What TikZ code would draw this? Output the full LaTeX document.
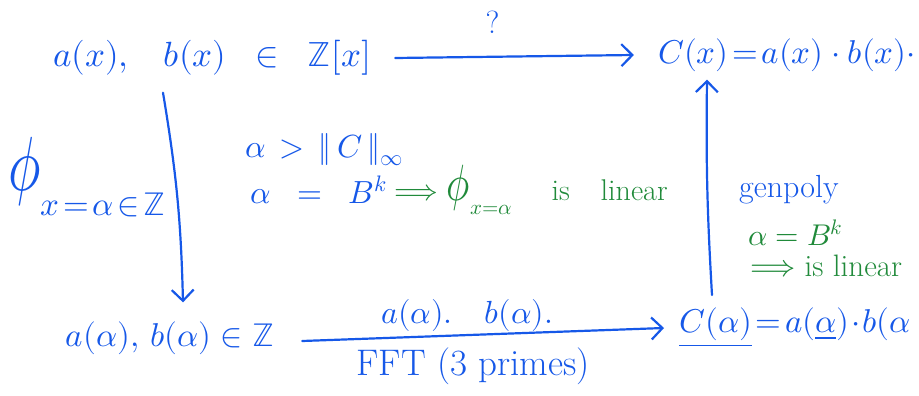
\documentclass[tikz,border=0pt]{standalone}
\usepackage{amsmath}
\usepackage{fontspec}
\usepackage{unicode-math}
\setmathfont{Latin Modern Math}
\usepackage{graphicx}
\usetikzlibrary{arrows.meta}
\definecolor{pen}{RGB}{22,88,232}
\definecolor{pgreen}{RGB}{32,138,58}
\tikzset{
  big/.style={text=pen, font=\fontsize{35}{38}\selectfont, inner sep=0pt},
  mid/.style={text=pen, font=\fontsize{32}{36}\selectfont, inner sep=0pt},
  gmid/.style={text=pgreen, font=\fontsize{30}{34}\selectfont, inner sep=0pt},
  arr/.style={draw=pen, line width=2.2pt, line cap=round,
    -{Straight Barb[length=11pt,width=22pt,line width=2.2pt]}},
}
\begin{document}
\begin{tikzpicture}[x=1pt,y=-1pt]
\useasboundingbox (0,0) rectangle (919,396);
% corner nodes
\node[big] (tl) at (212,58) {$a(x),\;\;\; b(x) \;\;\in\;\; \mathbb{Z}[x]$};
\node[big, font=\fontsize{33}{36}\selectfont] (tr) at (787,55) {$C(x)\!=\!a(x)\cdot b(x)\cdot$};
\node[big, font=\fontsize{33}{36}\selectfont] (bl) at (170,338) {$a(\alpha),\, b(\alpha) \in \mathbb{Z}$};
\node[big, font=\fontsize{33}{36}\selectfont, anchor=west] (br) at (679,328) {$\underline{C(\alpha)}\!=\!a(\underline{\alpha})\!\cdot\! b(\alpha$};
% arrows
\draw[arr] ([xshift=24pt]tl.east) -- ([xshift=-24pt]tr.west)
  node[midway, above=22pt, xshift=-22pt, mid] (q) {?};
\draw[arr] ([xshift=-49pt,yshift=-17pt]tl.south) to[bend left=4] ([xshift=13pt,yshift=19pt]bl.north);
\draw[arr] ([xshift=28pt,yshift=-3pt]bl.east) -- ([xshift=-15pt]br.west)
  node[midway, above=2pt, xshift=-16pt, mid] (ab) {$a(\alpha).\quad b(\alpha).$}
  node[midway, below=12pt, xshift=-10pt, big, font=\fontsize{37}{40}\selectfont] (fft) {FFT (3 primes)};
\draw[arr] ([xshift=33pt,yshift=13pt]br.north west) to[bend left=2] ([xshift=-80pt,yshift=-8pt]tr.south);
% labels
\node[mid, anchor=base west] (phi) at (8,190) {\scalebox{1.7}[2.4]{$\phi$}\raisebox{-25pt}{\fontsize{33}{36}\selectfont$x\!=\!\alpha\!\in\!\mathbb{Z}$}};
\node[mid, anchor=west] (norm) at (245,150) {$\alpha \,>\, \|\,C\,\|_{\infty}$};
\node[mid, anchor=west] (bk) at (250,190) {$\alpha \;\;=\;\; B^k$};
\node[gmid, anchor=west] (lin) at ([xshift=8pt]bk.east) {$\Longrightarrow\scalebox{1.3}[1.7]{$\phi$}_{x=\alpha}$\;\;\;\, is\;\;\, linear};
\node[mid, anchor=west] (gen) at (739,190) {genpoly};
\node[gmid, anchor=west] (bk2) at (748,233) {$\alpha = B^k$};
\node[gmid, anchor=west, font=\fontsize{31}{34}\selectfont] (lin2) at (750,266) {$\Longrightarrow$ is linear};
\end{tikzpicture}
\end{document}
